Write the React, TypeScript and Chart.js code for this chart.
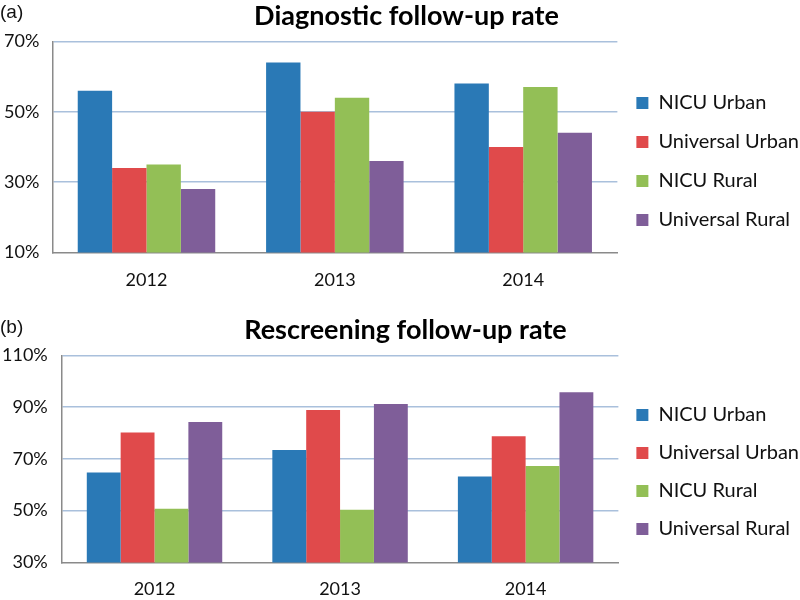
import React, { useEffect, useRef } from "react";
import { Chart, registerables } from "chart.js";

Chart.register(...registerables);

const categories = ["2012", "2013", "2014"];
const seriesNames = ["NICU Urban", "Universal Urban", "NICU Rural", "Universal Rural"];
const seriesColors = ["#2a79b6", "#e04a4b", "#93bf56", "#7f5e99"];

// (a) Diagnostic follow-up rate (%)
const diagNicuUrban = [56, 64, 58];
const diagUniversalUrban = [34, 50, 40];
const diagNicuRural = [35, 54, 57];
const diagUniversalRural = [28, 36, 44];

// (b) Rescreening follow-up rate (%)
const rescNicuUrban = [64.7, 73.4, 63.2];
const rescUniversalUrban = [80.2, 88.9, 78.8];
const rescNicuRural = [50.7, 50.3, 67.3];
const rescUniversalRural = [84.3, 91.2, 95.8];

const diagTicks = [10, 30, 50, 70];
const rescTicks = [30, 50, 70, 90, 110];

const FONT = "Lato, 'Open Sans', sans-serif";

type Cfg = {
  title: string;
  series: number[][];
  ticks: number[];
  padding: { left: number; right: number; top: number; bottom: number };
  titlePad: { top: number; bottom: number };
  yTick: number;
  xTick: number;
  legendPad: number;
  legendTitlePad: number;
};

function buildChart(canvas: HTMLCanvasElement, cfg: Cfg) {
  const minV = cfg.ticks[0];
  const maxV = cfg.ticks[cfg.ticks.length - 1];
  return new Chart(canvas, {
    type: "bar",
    data: {
      labels: categories,
      datasets: cfg.series.map((vals, i) => ({
        label: seriesNames[i],
        data: vals,
        backgroundColor: seriesColors[i],
        borderWidth: 0,
        categoryPercentage: 0.73,
        barPercentage: 1.0,
      })),
    },
    options: {
      animation: false,
      responsive: false,
      devicePixelRatio: 1,
      layout: { padding: cfg.padding },
      plugins: {
        tooltip: { enabled: false },
        title: {
          display: true,
          text: cfg.title,
          color: "#000",
          font: { family: FONT, size: 27, weight: "bold", lineHeight: 1.2 },
          padding: cfg.titlePad,
        },
        legend: {
          display: true,
          position: "right",
          align: "center",
          title: {
            display: true,
            text: "",
            font: { size: 10, lineHeight: 1.2 },
            padding: { top: cfg.legendTitlePad, bottom: 0 },
          },
          labels: {
            boxWidth: 12,
            boxHeight: 12,
            padding: cfg.legendPad,
            color: "#111",
            font: { family: FONT, size: 20 },
          },
        },
      },
      scales: {
        x: {
          grid: {
            display: true,
            drawOnChartArea: false,
            drawTicks: true,
            tickLength: cfg.xTick,
            tickColor: "rgba(0,0,0,0)",
          },
          border: { display: true, color: "#8a8a8a", width: 1.5 },
          ticks: {
            color: "#111",
            padding: 0,
            font: { family: FONT, size: 18 },
          },
        },
        y: {
          min: minV,
          max: maxV,
          afterBuildTicks: (scale: any) => {
            scale.ticks = cfg.ticks.map((v) => ({ value: v }));
          },
          grid: {
            drawTicks: true,
            tickLength: cfg.yTick,
            tickColor: "rgba(0,0,0,0)",
            lineWidth: 1.5,
            color: (ctx: any) => (ctx.tick && ctx.tick.value === minV ? "rgba(0,0,0,0)" : "#a9c0dc"),
          },
          border: { display: true, color: "#8a8a8a", width: 1.5 },
          ticks: {
            color: "#111",
            padding: 0,
            font: { family: FONT, size: 18 },
            callback: (v: any) => `${v}%`,
          },
        },
      },
    },
  });
}

function Panel({ cfg }: { cfg: Cfg }) {
  const ref = useRef<HTMLCanvasElement | null>(null);
  useEffect(() => {
    if (!ref.current) return;
    const chart = buildChart(ref.current, cfg);
    return () => chart.destroy();
  }, []);
  return <canvas ref={ref} width={800} height={300} style={{ display: "block", width: 800, height: 300 }} />;
}

const cfgA: Cfg = {
  title: "Diagnostic follow-up rate",
  series: [diagNicuUrban, diagUniversalUrban, diagNicuRural, diagUniversalRural],
  ticks: diagTicks,
  padding: { left: 4, right: -9, top: 0, bottom: 9 },
  titlePad: { top: 0, bottom: 9 },
  yTick: 13,
  xTick: 17,
  legendPad: 19,
  legendTitlePad: 20,
};

const cfgB: Cfg = {
  title: "Rescreening follow-up rate",
  series: [rescNicuUrban, rescUniversalUrban, rescNicuRural, rescUniversalRural],
  ticks: rescTicks,
  padding: { left: 2, right: -9, top: 0, bottom: 0 },
  titlePad: { top: 14, bottom: 9 },
  yTick: 14,
  xTick: 16,
  legendPad: 18,
  legendTitlePad: 32,
};

const labelStyle: React.CSSProperties = {
  position: "absolute",
  left: 0,
  fontFamily: "'Liberation Sans', Arial, sans-serif",
  fontSize: 19,
  lineHeight: "20px",
  color: "#111",
};

export default function App() {
  return (
    <div style={{ position: "absolute", left: 0, top: 0, width: 800, height: 600, background: "#fff" }}>
      <Panel cfg={cfgA} />
      <Panel cfg={cfgB} />
      <div style={{ ...labelStyle, top: 2 }}>(a)</div>
      <div style={{ ...labelStyle, top: 317 }}>(b)</div>
    </div>
  );
}
